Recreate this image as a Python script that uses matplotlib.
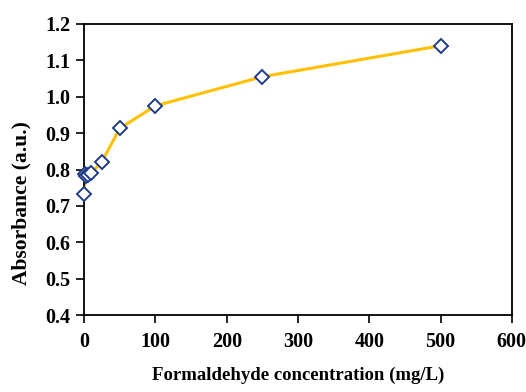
import matplotlib
matplotlib.use("Agg")
import matplotlib.pyplot as plt

conc = [0, 1, 2.5, 5, 10, 25, 50, 100, 250, 500]
absorbance = [0.733, 0.787, 0.783, 0.785, 0.79, 0.822, 0.913, 0.975, 1.055, 1.14]
xticks = [0, 100, 200, 300, 400, 500, 600]
yticks = [0.4, 0.5, 0.6, 0.7, 0.8, 0.9, 1.0, 1.1, 1.2]

plt.rcParams['font.family'] = ['Liberation Serif', 'DejaVu Serif']
plt.rcParams['font.weight'] = 'bold'

fig = plt.figure(figsize=(5.26, 3.92), dpi=100)
ax = fig.add_axes([0.16, 0.196, 0.813, 0.743])
ax.plot(conc, absorbance, color='#FFC000', lw=2.2, zorder=2)
ax.plot(conc, absorbance, ls='none', marker='D', ms=7, mfc='white',
        mec='#1F3C88', mew=1.4, zorder=3, clip_on=False)
ax.set_xlim(0, 600)
ax.set_ylim(0.4, 1.2)
ax.set_xticks(xticks)
ax.set_yticks(yticks)
ax.set_yticklabels([f"{v:.1f}" for v in yticks])
ax.tick_params(direction='out', length=6, width=1.2, labelsize=14.5)
ax.tick_params(axis='y', pad=4)
ax.tick_params(axis='x', pad=6)
for s in ax.spines.values():
    s.set_linewidth(1.3)
ax.set_xlabel('Formaldehyde concentration (mg/L)', fontsize=13.5, fontweight='bold', labelpad=11)
ax.set_ylabel('Absorbance (a.u.)', fontsize=15.5, fontweight='bold')
ax.yaxis.set_label_coords(-0.124, 0.385)
fig.savefig('out.png', dpi=100)
